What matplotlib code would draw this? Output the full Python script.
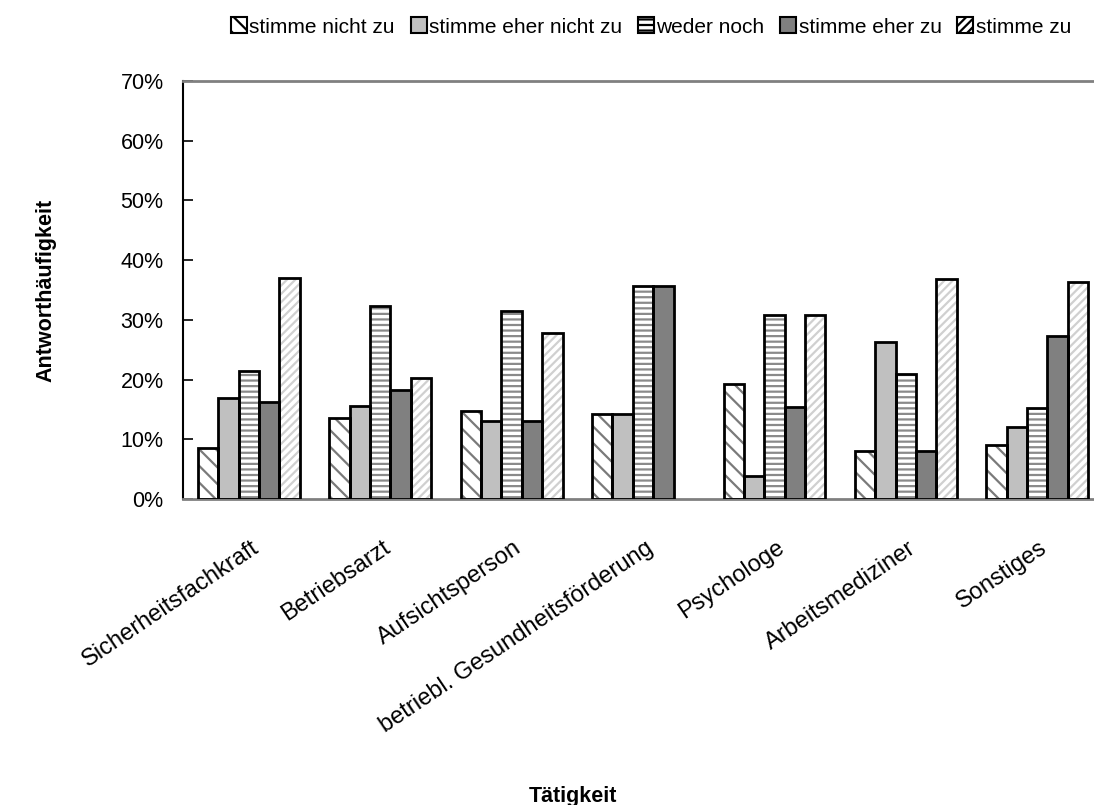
import matplotlib
matplotlib.use("Agg")
import matplotlib.pyplot as plt
import matplotlib.transforms as mtrans
from matplotlib.patches import Patch
import numpy as np

plt.rcParams['font.family'] = ['Liberation Sans', 'DejaVu Sans']
plt.rcParams['hatch.linewidth'] = 1.6

categories = ["Sicherheitsfachkraft", "Betriebsarzt", "Aufsichtsperson",
              "betriebl. Gesundheitsförderung", "Psychologe", "Arbeitsmediziner", "Sonstiges"]
series = ["stimme nicht zu", "stimme eher nicht zu", "weder noch", "stimme eher zu", "stimme zu"]
stimme_nicht_zu = [8.5, 13.5, 14.8, 14.3, 19.2, 8.0, 9.1]
stimme_eher_nicht_zu = [16.9, 15.6, 13.0, 14.3, 3.8, 26.3, 12.1]
weder_noch = [21.4, 32.4, 31.5, 35.7, 30.8, 21.0, 15.2]
stimme_eher_zu = [16.2, 18.3, 13.0, 35.7, 15.4, 8.0, 27.3]
stimme_zu = [37.0, 20.3, 27.8, 0.0, 30.8, 36.8, 36.4]
values = [stimme_nicht_zu, stimme_eher_nicht_zu, weder_noch, stimme_eher_zu, stimme_zu]
yticks = [0, 10, 20, 30, 40, 50, 60, 70]

styles = [
    dict(face="white", hatch="\\\\", hcolor="#7a7a7a"),
    dict(face="#c0c0c0", hatch=None, hcolor=None),
    dict(face="white", hatch="---", hcolor="#8a8a8a"),
    dict(face="#808080", hatch=None, hcolor=None),
    dict(face="white", hatch="////", hcolor="#d0d0d0"),
]

fig = plt.figure(figsize=(10.94, 8.05), dpi=100)
W, H = 1094, 805
left, right, top, bottom = 183, 1103, 81, 499
ax = fig.add_axes([left / W, 1 - bottom / H, (right - left) / W, (bottom - top) / H])

x = np.arange(len(categories))
bw = 0.155
offsets = (np.arange(5) - 2) * bw
handles = []
for i, (vals, st) in enumerate(zip(values, styles)):
    pos = x + offsets[i]
    lw = [2.0 if v > 0 else 0.0 for v in vals]
    if st["hatch"]:
        ax.bar(pos, vals, bw, color=st["face"], hatch=st["hatch"], edgecolor=st["hcolor"],
               linewidth=0, zorder=2)
    else:
        ax.bar(pos, vals, bw, color=st["face"], linewidth=0, zorder=2)
    ax.bar(pos, vals, bw, facecolor="none", edgecolor="black", linewidth=lw, zorder=3)
    handles.append(Patch(facecolor=st["face"], hatch=st["hatch"] or "",
                         edgecolor="black", linewidth=1.5, label=series[i]))

ax.set_xlim(-0.5, len(categories) - 0.5)
ax.set_ylim(0, 70)
ax.set_yticks(yticks)
ax.set_yticklabels([f"{t}%" for t in yticks], fontsize=15.5)
ax.tick_params(axis='y', direction='in', length=7, width=1.2, pad=14)
ax.tick_params(axis='x', length=0, pad=0)
ax.set_xticks(x)
ax.set_xticklabels(categories, rotation=34, ha='right', va='center',
                   rotation_mode='anchor', fontsize=17)
off = mtrans.ScaledTranslation(8 / 100, -47 / 100, fig.dpi_scale_trans)
for lab in ax.get_xticklabels():
    lab.set_transform(lab.get_transform() + off)

ax.spines['left'].set_color('black')
ax.spines['left'].set_linewidth(1.5)
ax.spines['top'].set_color('#808080')
ax.spines['top'].set_linewidth(2.0)
ax.spines['bottom'].set_color('#808080')
ax.spines['bottom'].set_linewidth(2.0)
ax.spines['right'].set_visible(False)

fig.text(573 / W, 1 - 796 / H, "Tätigkeit", ha='center', va='center', fontsize=15.5, fontweight='bold')
fig.text(46 / W, 1 - 290 / H, "Antworthäufigkeit", ha='center', va='center', rotation=90,
         fontsize=15.5, fontweight='bold')

fig.legend(handles=handles, loc='center', bbox_to_anchor=(651 / W, 1 - 27 / H), ncol=5,
           frameon=False, fontsize=15, handlelength=0.77, handleheight=0.77,
           handletextpad=0.12, columnspacing=0.75, borderaxespad=0, borderpad=0)

fig.savefig("out.png", dpi=100)
